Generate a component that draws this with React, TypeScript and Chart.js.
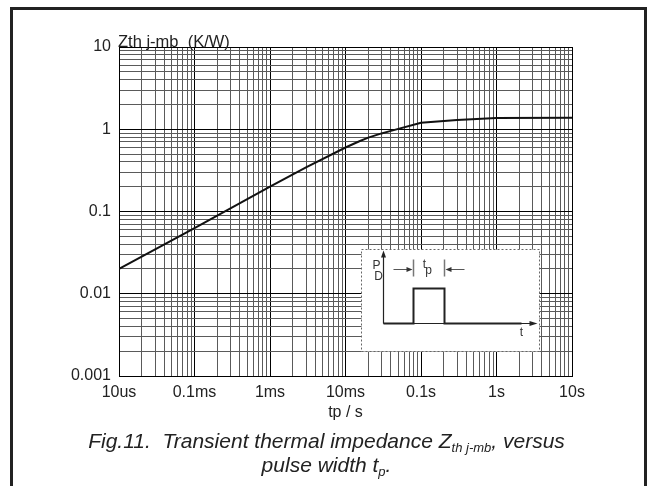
import React, { useEffect, useRef } from 'react';
import { Chart, registerables } from 'chart.js';

Chart.register(...registerables);

// ---- data ----
const tpSeconds = [1e-5, 1e-4, 1e-3, 3e-3, 0.01, 0.015, 0.02, 0.03, 0.04, 0.1, 0.3, 1, 10];
const zthValues = [0.02, 0.063, 0.2, 0.345, 0.6, 0.71, 0.79, 0.89, 0.955, 1.2, 1.3, 1.37, 1.38];

const xTickValues = [1e-5, 1e-4, 1e-3, 1e-2, 1e-1, 1, 10];
const xTickLabels = ['10us', '0.1ms', '1ms', '10ms', '0.1s', '1s', '10s'];
const yTickValues = [0.001, 0.01, 0.1, 1, 10];
const yTickLabels = ['0.001', '0.01', '0.1', '1', '10'];

const yTitle = 'Zth j-mb  (K/W)';
const xTitle = 'tp / s';

const FONT = "'Liberation Sans', Arial, sans-serif";

function logTicks(min: number, max: number) {
  const out: { value: number }[] = [];
  const e0 = Math.round(Math.log10(min));
  const e1 = Math.round(Math.log10(max));
  for (let e = e0; e < e1; e++) {
    for (let m = 1; m <= 9; m++) {
      out.push({ value: Number((m * Math.pow(10, e)).toPrecision(3)) });
    }
  }
  out.push({ value: max });
  return out;
}

function findIdx(list: number[], v: number) {
  return list.findIndex((t) => Math.abs(Math.log10(t) - Math.log10(v)) < 1e-6);
}

const decorPlugin = {
  id: 'decor',
  afterDraw(chart: any) {
    const ctx = chart.ctx as CanvasRenderingContext2D;
    const a = chart.chartArea;
    const W = chart.width;
    ctx.save();

    // outer frame (open at the bottom)
    ctx.strokeStyle = '#222';
    ctx.lineWidth = 3;
    ctx.beginPath();
    ctx.moveTo(11.5, chart.height);
    ctx.lineTo(11.5, 8.5);
    ctx.lineTo(W - 3.5, 8.5);
    ctx.lineTo(W - 3.5, chart.height);
    ctx.stroke();

    // y-axis title
    ctx.fillStyle = '#222';
    ctx.font = `16.5px ${FONT}`;
    ctx.textAlign = 'left';
    ctx.textBaseline = 'middle';
    ctx.fillText(yTitle, a.left - 1, a.top - 5);

    // x-axis title
    ctx.font = `16px ${FONT}`;
    ctx.textAlign = 'center';
    ctx.fillText(xTitle, (a.left + a.right) / 2, a.bottom + 37);

    // caption
    const capFont = `italic 21px ${FONT}`;
    const subFont = `italic 13px ${FONT}`;
    const parts1: [string, string, number][] = [
      ['Fig.11.  Transient thermal impedance Z', capFont, 0],
      ['th j-mb', subFont, 4],
      [', versus', capFont, 0],
    ];
    const y1 = a.bottom + 72;
    let total = 0;
    for (const p of parts1) { ctx.font = p[1]; total += ctx.measureText(p[0]).width; }
    let x = W / 2 + 2 - total / 2;
    ctx.textAlign = 'left';
    ctx.textBaseline = 'alphabetic';
    for (const p of parts1) { ctx.font = p[1]; ctx.fillText(p[0], x, y1 + p[2]); x += ctx.measureText(p[0]).width; }
    const parts2: [string, string, number][] = [
      ['pulse width t', capFont, 0],
      ['p', subFont, 4],
      ['.', capFont, 0],
    ];
    const y2 = y1 + 24;
    total = 0;
    for (const p of parts2) { ctx.font = p[1]; total += ctx.measureText(p[0]).width; }
    x = W / 2 + 2 - total / 2;
    for (const p of parts2) { ctx.font = p[1]; ctx.fillText(p[0], x, y2 + p[2]); x += ctx.measureText(p[0]).width; }

    // inset pulse diagram
    const aw = a.right - a.left;
    const ah = a.bottom - a.top;
    const L = Math.round(a.left + aw * 0.534) + 0.5;
    const R = Math.round(a.left + aw * 0.927) + 0.5;
    const T = Math.round(a.top + ah * 0.614) + 0.5;
    const B = Math.round(a.top + ah * 0.924) + 0.5;
    ctx.fillStyle = '#fff';
    ctx.fillRect(L, T, R - L, B - T);
    ctx.strokeStyle = '#666';
    ctx.lineWidth = 1;
    ctx.setLineDash([2, 2]);
    ctx.strokeRect(L, T, R - L, B - T);
    ctx.setLineDash([]);

    const ax = L + 22;
    const by = T + 74;
    const rise = L + 52;
    const fall = L + 83;
    const top = T + 39;
    ctx.strokeStyle = '#222';
    ctx.fillStyle = '#222';
    ctx.lineWidth = 1.2;
    ctx.beginPath();
    ctx.moveTo(ax, by);
    ctx.lineTo(ax, T + 4);
    ctx.stroke();
    ctx.beginPath();
    ctx.moveTo(ax, T + 1);
    ctx.lineTo(ax - 2.5, T + 8);
    ctx.lineTo(ax + 2.5, T + 8);
    ctx.closePath();
    ctx.fill();
    ctx.beginPath();
    ctx.moveTo(ax, by);
    ctx.lineTo(L + 172, by);
    ctx.stroke();
    ctx.beginPath();
    ctx.moveTo(L + 176, by);
    ctx.lineTo(L + 168, by - 2.5);
    ctx.lineTo(L + 168, by + 2.5);
    ctx.closePath();
    ctx.fill();
    ctx.lineWidth = 2;
    ctx.beginPath();
    ctx.moveTo(ax, by);
    ctx.lineTo(rise, by);
    ctx.lineTo(rise, top);
    ctx.lineTo(fall, top);
    ctx.lineTo(fall, by);
    ctx.lineTo(L + 160, by);
    ctx.stroke();
    ctx.strokeStyle = '#777';
    ctx.lineWidth = 1.5;
    ctx.beginPath();
    ctx.moveTo(rise, T + 10);
    ctx.lineTo(rise, T + 27);
    ctx.moveTo(fall, T + 10);
    ctx.lineTo(fall, T + 27);
    ctx.stroke();
    const dy = T + 20;
    ctx.strokeStyle = '#555';
    ctx.lineWidth = 1;
    ctx.beginPath();
    ctx.moveTo(L + 32, dy);
    ctx.lineTo(rise - 5, dy);
    ctx.moveTo(L + 103, dy);
    ctx.lineTo(fall + 5, dy);
    ctx.stroke();
    ctx.fillStyle = '#333';
    ctx.beginPath();
    ctx.moveTo(rise - 1, dy);
    ctx.lineTo(rise - 7, dy - 2.5);
    ctx.lineTo(rise - 7, dy + 2.5);
    ctx.closePath();
    ctx.moveTo(fall + 1, dy);
    ctx.lineTo(fall + 7, dy - 2.5);
    ctx.lineTo(fall + 7, dy + 2.5);
    ctx.closePath();
    ctx.fill();
    ctx.fillStyle = '#333';
    ctx.font = `12px ${FONT}`;
    ctx.textAlign = 'center';
    ctx.textBaseline = 'middle';
    ctx.fillText('P', L + 15, T + 16);
    ctx.fillText('D', L + 17, T + 27);
    ctx.fillText('t', L + 63, T + 15);
    ctx.fillText('p', L + 67, T + 21);
    ctx.fillText('t', L + 160, T + 83);

    ctx.restore();
  },
};

export default function App() {
  const ref = useRef<HTMLCanvasElement | null>(null);

  useEffect(() => {
    if (!ref.current) return;
    const data = tpSeconds.map((t, i) => ({ x: t, y: zthValues[i] }));
    const chart = new Chart(ref.current, {
      type: 'line',
      data: {
        datasets: [
          {
            data,
            borderColor: '#111',
            borderWidth: 2,
            pointRadius: 0,
            tension: 0,
            fill: false,
          },
        ],
      },
      options: {
        responsive: false,
        animation: false,
        events: [],
        layout: { padding: { left: 0, top: 47, right: 77, bottom: 0 } },
        plugins: { legend: { display: false }, tooltip: { enabled: false } },
        scales: {
          x: {
            type: 'logarithmic',
            min: xTickValues[0],
            max: xTickValues[xTickValues.length - 1],
            afterBuildTicks: (s: any) => {
              s.ticks = logTicks(s.min, s.max);
            },
            afterFit: (s: any) => {
              s.height = 110;
            },
            border: { color: '#000', width: 1 },
            grid: {
              drawTicks: false,
              lineWidth: 1,
              color: (c: any) => (findIdx(xTickValues, c.tick.value) >= 0 ? '#000' : '#5a5a5a'),
            },
            ticks: {
              autoSkip: false,
              maxRotation: 0,
              padding: 7,
              color: '#222',
              font: { family: FONT, size: 16 },
              callback: (v: any) => {
                const i = findIdx(xTickValues, Number(v));
                return i >= 0 ? xTickLabels[i] : '';
              },
            },
          },
          y: {
            type: 'logarithmic',
            min: yTickValues[0],
            max: yTickValues[yTickValues.length - 1],
            afterBuildTicks: (s: any) => {
              s.ticks = logTicks(s.min, s.max);
            },
            afterFit: (s: any) => {
              s.width = 119;
            },
            border: { color: '#000', width: 1 },
            grid: {
              drawTicks: false,
              lineWidth: 1,
              color: (c: any) => (findIdx(yTickValues, c.tick.value) >= 0 ? '#000' : '#5a5a5a'),
            },
            ticks: {
              autoSkip: false,
              padding: 8,
              color: '#222',
              font: { family: FONT, size: 16 },
              callback: (v: any) => {
                const i = findIdx(yTickValues, Number(v));
                return i >= 0 ? yTickLabels[i] : '';
              },
            },
          },
        },
      },
      plugins: [decorPlugin],
    } as any);
    return () => chart.destroy();
  }, []);

  return (
    <div style={{ position: 'absolute', left: 0, top: 0, width: 649, height: 486, background: '#fff' }}>
      <canvas ref={ref} width={649} height={486} style={{ display: 'block' }} />
    </div>
  );
}
